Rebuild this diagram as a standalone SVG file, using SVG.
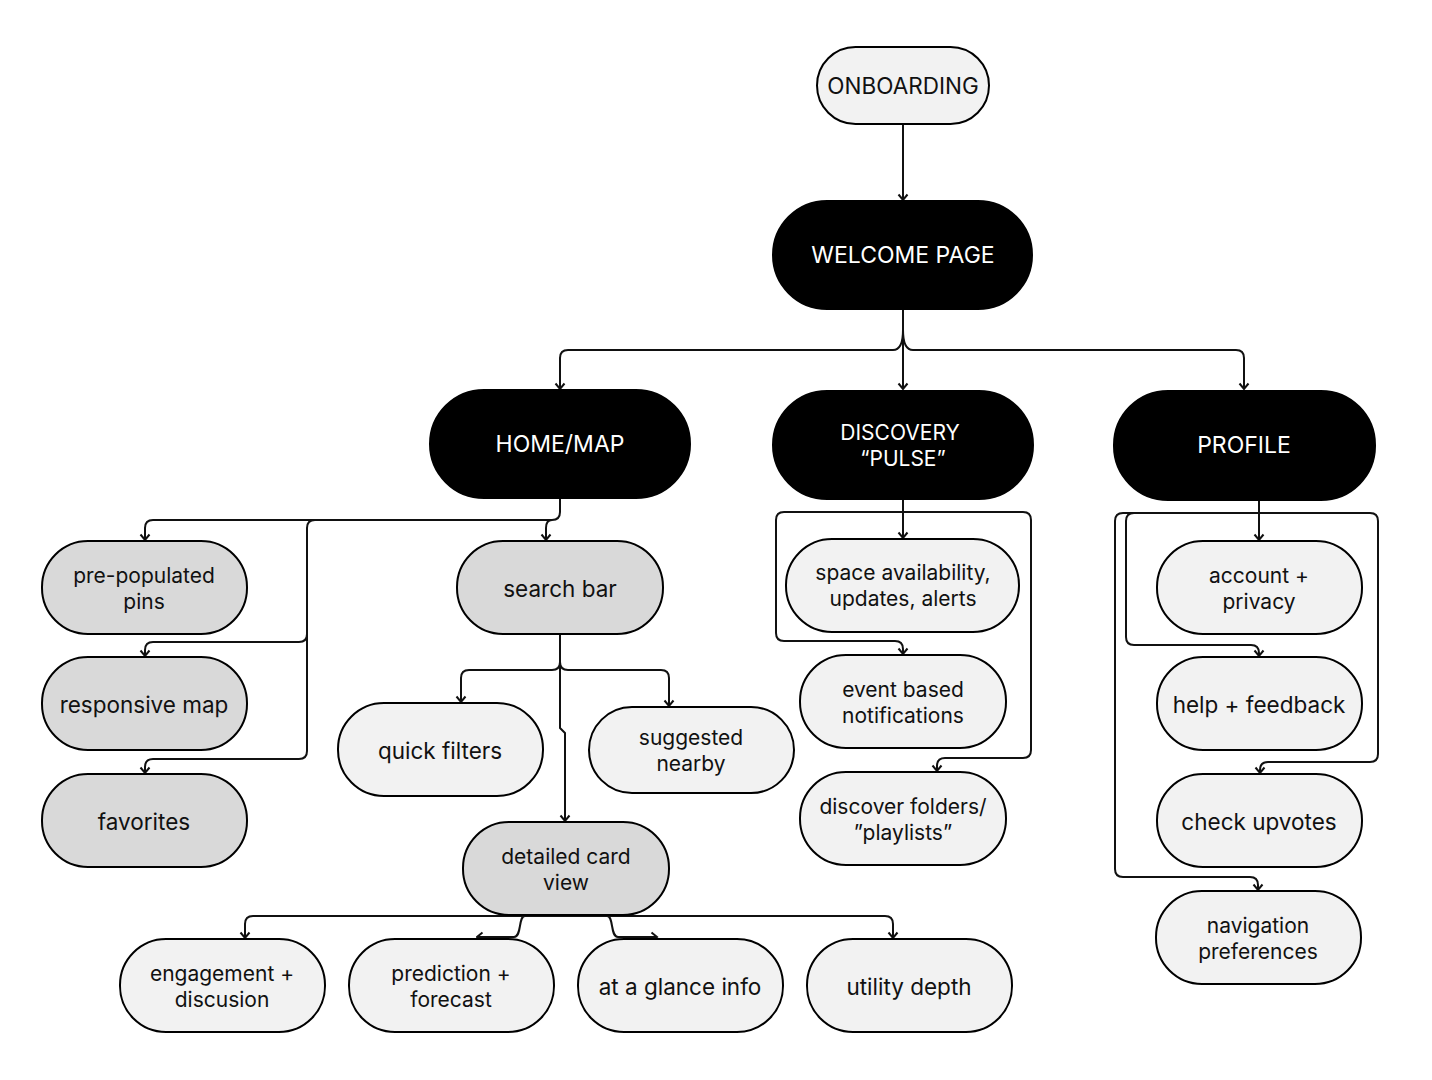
<svg xmlns="http://www.w3.org/2000/svg" width="1432" height="1080" viewBox="0 0 1432 1080">
<style>
.n{stroke:#000;stroke-width:2}
.dark{fill:#000}
.mid{fill:#d9d9d9}
.lite{fill:#f2f2f2}
.t{font-family:Inter,"Liberation Sans",sans-serif;font-size:22.5px;fill:#111;text-anchor:middle;dominant-baseline:central}
.w{fill:#fff;font-size:23px}
.t2{font-size:21px}
.c{fill:none;stroke:#111;stroke-width:2;stroke-linejoin:round}
</style>
<defs>
<marker id="ah" viewBox="0 0 12 12" refX="10.5" refY="6" markerWidth="12" markerHeight="12" markerUnits="userSpaceOnUse" orient="auto">
<path d="M5,1.5 L10.5,6 L5,10.5" fill="none" stroke="#111" stroke-width="2"/>
</marker>
</defs>
<rect width="1432" height="1080" fill="#fff"/>
<g id="connectors">
<path class="c" d="M903,124 V200" marker-end="url(#ah)"/>
<path class="c" d="M903,309 V389" marker-end="url(#ah)"/>
<path class="c" d="M903,330 Q903,350 893,350 H568 Q560,350 560,358 V389" marker-end="url(#ah)"/>
<path class="c" d="M903,330 Q903,350 913,350 H1236 Q1244,350 1244,358 V389" marker-end="url(#ah)"/>
<path class="c" d="M560,498 V512 Q560,520 552,520 H153 Q145,520 145,528 V540" marker-end="url(#ah)"/>
<path class="c" d="M552,520 Q546,520 546,528 V540" marker-end="url(#ah)"/>
<path class="c" d="M315,520 Q307,520 307,528 V634 Q307,642 299,642 H153 Q145,642 145,650 V656" marker-end="url(#ah)"/>
<path class="c" d="M307,634 V751 Q307,759 299,759 H153 Q145,759 145,767 V773" marker-end="url(#ah)"/>
<path class="c" d="M560,634 V662 Q560,670 552,670 H469 Q461,670 461,678 V702" marker-end="url(#ah)"/>
<path class="c" d="M560,662 Q560,670 568,670 H661 Q669,670 669,678 V706" marker-end="url(#ah)"/>
<path class="c" d="M560,662 V728 L565,733 V821" marker-end="url(#ah)"/>
<path class="c" d="M903,499 V538" marker-end="url(#ah)"/>
<path class="c" d="M903,512 H784 Q776,512 776,520 V633 Q776,641 784,641 H895 Q903,641 903,649 V654" marker-end="url(#ah)"/>
<path class="c" d="M903,512 H1023 Q1031,512 1031,520 V750 Q1031,758 1023,758 H945 Q937,758 937,766 V771" marker-end="url(#ah)"/>
<path class="c" d="M1259,500 V540" marker-end="url(#ah)"/>
<path class="c" d="M1259,513 H1123 Q1115,513 1115,521 V869 Q1115,877 1123,877 H1250 Q1258,877 1258,885 V890" marker-end="url(#ah)"/>
<path class="c" d="M1259,513 H1134 Q1126,513 1126,521 V637 Q1126,645 1134,645 H1251 Q1259,645 1259,653 V656" marker-end="url(#ah)"/>
<path class="c" d="M1259,513 H1370 Q1378,513 1378,521 V754 Q1378,762 1370,762 H1268 Q1260,762 1260,770 V773" marker-end="url(#ah)"/>
<path class="c" d="M525,916 H253 Q245,916 245,924 V938" marker-end="url(#ah)"/>
<path class="c" d="M607,916 H885 Q893,916 893,924 V938" marker-end="url(#ah)"/>
<path class="c" d="M525,916 C518,916 522,937 514,937 H477" marker-end="url(#ah)"/>
<path class="c" d="M607,916 C614,916 610,937 618,937 H657" marker-end="url(#ah)"/>
<path class="c" d="M525,916 H607"/>
</g>
<g id="onboarding"><rect class="n lite" x="817" y="47" width="172" height="77" rx="38.5"/><text class="t" x="903" y="85">ONBOARDING</text></g>
<g id="welcome"><rect class="n dark" x="773" y="201" width="259" height="108" rx="54"/><text class="t w" x="903" y="255">WELCOME PAGE</text></g>
<g id="home"><rect class="n dark" x="430" y="390" width="260" height="108" rx="54"/><text class="t w" x="560" y="444">HOME/MAP</text></g>
<g id="discovery"><rect class="n dark" x="773" y="391" width="260" height="108" rx="54"/><text class="t w t2" y="432"><tspan x="900">DISCOVERY</tspan><tspan x="903" dy="26">“PULSE”</tspan></text></g>
<g id="profile"><rect class="n dark" x="1114" y="391" width="261" height="109" rx="54"/><text class="t w" x="1244" y="445">PROFILE</text></g>
<g id="pins"><rect class="n mid" x="42" y="541" width="205" height="93" rx="46"/><text class="t t2" y="575"><tspan x="144">pre-populated</tspan><tspan x="144" dy="26">pins</tspan></text></g>
<g id="responsive"><rect class="n mid" x="42" y="657" width="205" height="93" rx="46"/><text class="t" x="144" y="704">responsive map</text></g>
<g id="favorites"><rect class="n mid" x="42" y="774" width="205" height="93" rx="46"/><text class="t" x="144" y="821">favorites</text></g>
<g id="search"><rect class="n mid" x="457" y="541" width="206" height="93" rx="46"/><text class="t" x="560" y="588">search bar</text></g>
<g id="filters"><rect class="n lite" x="338" y="703" width="205" height="93" rx="46"/><text class="t" x="440" y="750">quick filters</text></g>
<g id="suggested"><rect class="n lite" x="589" y="707" width="205" height="86" rx="43"/><text class="t t2" y="737"><tspan x="691">suggested</tspan><tspan x="691" dy="26">nearby</tspan></text></g>
<g id="card"><rect class="n mid" x="463" y="822" width="206" height="93" rx="46"/><text class="t t2" y="856"><tspan x="566">detailed card</tspan><tspan x="566" dy="26">view</tspan></text></g>
<g id="engagement"><rect class="n lite" x="120" y="939" width="205" height="93" rx="46"/><text class="t t2" y="973"><tspan x="222">engagement +</tspan><tspan x="222" dy="26">discusion</tspan></text></g>
<g id="prediction"><rect class="n lite" x="349" y="939" width="205" height="93" rx="46"/><text class="t t2" y="973"><tspan x="451">prediction +</tspan><tspan x="451" dy="26">forecast</tspan></text></g>
<g id="glance"><rect class="n lite" x="578" y="939" width="205" height="93" rx="46"/><text class="t" x="680" y="986">at a glance info</text></g>
<g id="utility"><rect class="n lite" x="807" y="939" width="205" height="93" rx="46"/><text class="t" x="909" y="986">utility depth</text></g>
<g id="space"><rect class="n lite" x="786" y="539" width="233" height="93" rx="46"/><text class="t t2" y="572"><tspan x="903">space availability,</tspan><tspan x="903" dy="26">updates, alerts</tspan></text></g>
<g id="event"><rect class="n lite" x="800" y="655" width="206" height="93" rx="46"/><text class="t t2" y="689"><tspan x="903">event based</tspan><tspan x="903" dy="26">notifications</tspan></text></g>
<g id="folders"><rect class="n lite" x="800" y="772" width="206" height="93" rx="46"/><text class="t t2" y="806"><tspan x="903">discover folders/</tspan><tspan x="903" dy="26">”playlists”</tspan></text></g>
<g id="account"><rect class="n lite" x="1157" y="541" width="205" height="93" rx="46"/><text class="t t2" y="575"><tspan x="1259">account +</tspan><tspan x="1259" dy="26">privacy</tspan></text></g>
<g id="help"><rect class="n lite" x="1157" y="657" width="205" height="93" rx="46"/><text class="t" x="1259" y="704">help + feedback</text></g>
<g id="upvotes"><rect class="n lite" x="1157" y="774" width="205" height="93" rx="46"/><text class="t" x="1259" y="821">check upvotes</text></g>
<g id="navigation"><rect class="n lite" x="1156" y="891" width="205" height="93" rx="46"/><text class="t t2" y="925"><tspan x="1258">navigation</tspan><tspan x="1258" dy="26">preferences</tspan></text></g>
</svg>
